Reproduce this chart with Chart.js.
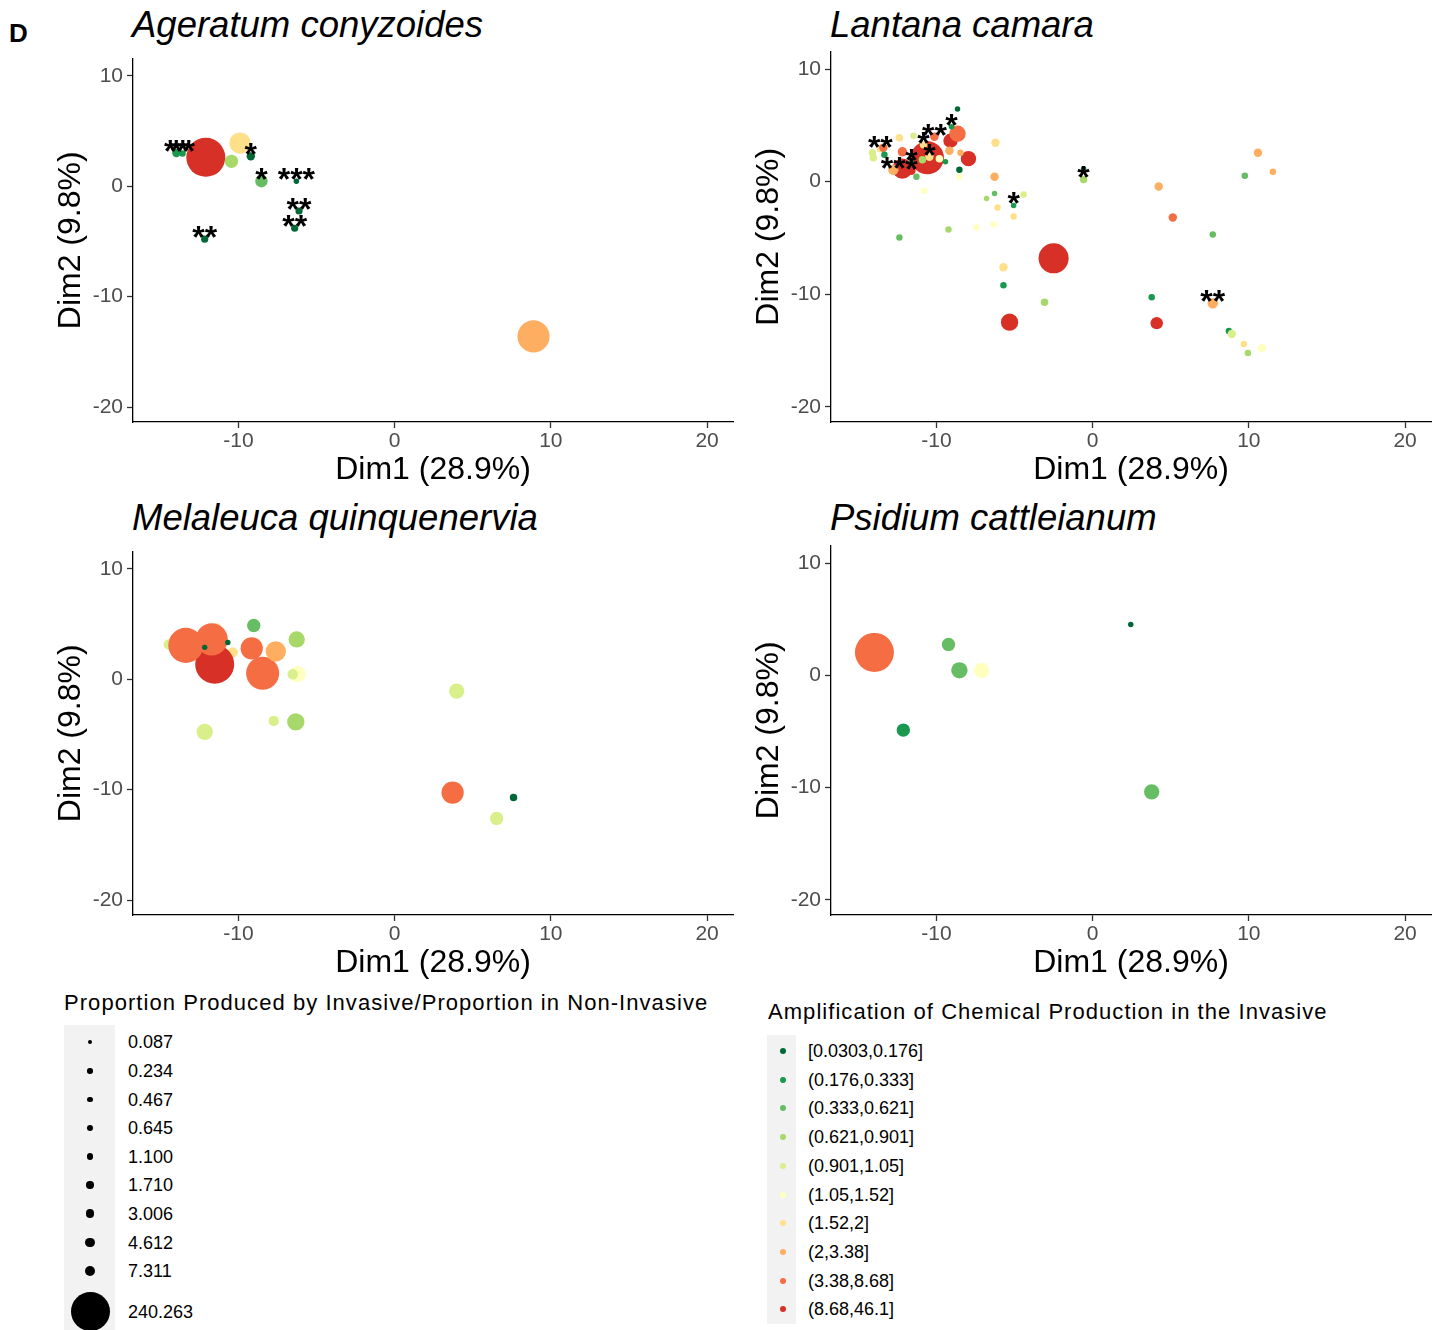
<!DOCTYPE html>
<html>
<head>
<meta charset="utf-8">
<script src="https://cdn.jsdelivr.net/npm/chart.js@4.4.0/dist/chart.umd.min.js"></script>
<style>
body { margin:0; background:#fff; font-family:"Liberation Sans", Arial, sans-serif; }
#page { position:relative; width:1441px; height:1330px; overflow:hidden; background:#fff; }
canvas { position:absolute; }
.ttl { position:absolute; font-style:italic; font-size:36.5px; line-height:36px; color:#000; white-space:nowrap; }
.tag { position:absolute; left:9px; top:20px; font-weight:bold; font-size:26px; line-height:26px; }
.lgtitle { position:absolute; font-size:22px; line-height:22px; letter-spacing:1.05px; color:#000; white-space:nowrap; }
.keys { position:absolute; background:#f2f2f2; }
.dot { position:absolute; border-radius:50%; }
.lab { position:absolute; font-size:18px; line-height:18px; color:#000; white-space:nowrap; }
</style>
</head>
<body>
<div id="page">
  <div class="tag">D</div>
  <div class="ttl" style="left:132px; top:7px;">Ageratum conyzoides</div>
  <div class="ttl" style="left:830px; top:7px;">Lantana camara</div>
  <div class="ttl" style="left:132px; top:500px;">Melaleuca quinquenervia</div>
  <div class="ttl" style="left:830px; top:500px;">Psidium cattleianum</div>
  <canvas id="c1" width="700" height="448" style="left:40px; top:42px;"></canvas>
  <canvas id="c2" width="700" height="455" style="left:738px; top:35px;"></canvas>
  <canvas id="c3" width="700" height="448" style="left:40px; top:535px;"></canvas>
  <canvas id="c4" width="700" height="454" style="left:738px; top:529px;"></canvas>
  <div id="legends"></div>
</div>
<script>
// axis ticks
var xTicks = [-10, 0, 10, 20];
var yTicks = [-20, -10, 0, 10];
var xLabel = 'Dim1 (28.9%)';
var yLabel = 'Dim2 (9.8%)';

// colour classes (amplification in the invasive)
var ampClasses = ['[0.0303,0.176]', '(0.176,0.333]', '(0.333,0.621]', '(0.621,0.901]', '(0.901,1.05]',
                  '(1.05,1.52]', '(1.52,2]', '(2,3.38]', '(3.38,8.68]', '(8.68,46.1]'];
// size legend (proportion invasive / proportion non-invasive)
var sizeBreaks = [0.087, 0.234, 0.467, 0.645, 1.100, 1.710, 3.006, 4.612, 7.311, 240.263];
var sizeLabels = ['0.087', '0.234', '0.467', '0.645', '1.100', '1.710', '3.006', '4.612', '7.311', '240.263'];

// Ageratum conyzoides
var agX = [-12.09, -9.90, -10.45, -9.21, -13.97, -13.58, -8.53, -6.29, -6.12, -6.40, -12.16, 8.89];
var agY = [2.61, 3.90, 2.25, 2.70, 3.00, 2.95, 0.45, 0.45, -2.25, -3.81, -4.80, -13.60];
var agRatio = [240.263, 56.8, 16.0, 3.22, 3.22, 0.87, 12.6, 0.28, 1.5, 1.5, 1.5, 153.8];
var agClass = [9, 6, 3, 0, 1, 1, 2, 0, 0, 0, 0, 7];
var agStars = ['', '', '', '*', '**', '**', '*', '***', '**', '**', '**', ''];

// Lantana camara
var lcX = [-10.58, -12.18, -9.10, -8.65, -7.95, -2.50, -5.32, 4.10, -12.18,
           -13.59, -13.40, -14.10, -14.04, -13.33, -12.76, -11.60, -11.60, -10.83, -10.45,
           -10.13, -9.04, -8.65, -12.37, -11.47, -8.53, -8.53, -9.17, -8.46, -9.81,
           -9.42, -10.90, -11.28, -10.77, -6.22, -6.28, -12.37, -9.23, -7.44, -6.35,
           -6.79, -6.28, -4.42, -5.06, -6.09, -5.06, -0.58, -0.58, 4.23, 9.74,
           10.58, 11.54, 5.13, 7.69, -5.71, -5.71, -3.08, 3.78, 7.69, 8.72,
           8.91, 9.68, 10.83, 9.94];
var lcY = [2.12, 1.15, 3.63, 4.25, 2.04, -6.81, -12.48, -12.57, 2.65,
           2.92, 3.01, 2.57, 2.12, 2.39, 1.06, 1.77, 0.97, 3.27, 2.21,
           3.98, 4.87, 6.46, 3.89, 4.07, 1.06, 0.44, 2.74, 2.57, 2.04,
           1.77, 1.95, 0.44, -0.80, 3.45, 0.44, -4.96, -4.25, -4.07, -3.81,
           -1.50, -1.06, -1.15, -2.12, -2.30, -3.10, 1.15, 0.18, -0.44, 0.53,
           2.57, 0.88, -3.19, -4.69, -7.61, -9.20, -10.71, -10.27, -10.80, -13.27,
           -13.54, -14.42, -14.78, -15.22];
var lcRatio = [165, 50.3, 19.7, 28.3, 23.8, 132.6, 33.2, 12.6, 5.0,
               1.85, 3.22, 1.85, 1.85, 0.87, 7.14, 0.28, 3.22, 1.85, 3.22,
               3.22, 0.28, 0.28, 1.85, 0.87, 0.87, 0.87, 3.22, 0.87, 1.85,
               0.28, 1.85, 0.87, 0.87, 3.22, 3.22, 0.87, 0.87, 0.87, 0.87,
               0.28, 0.28, 0.87, 0.28, 0.87, 0.87, 0.28, 1.85, 3.22, 0.87,
               3.22, 0.87, 3.22, 0.87, 3.22, 0.87, 1.85, 0.87, 7.14, 0.87,
               3.22, 0.87, 3.22, 0.87];
var lcClass = [9, 9, 9, 8, 9, 9, 9, 9, 8,
               6, 8, 4, 4, 1, 7, 1, 9, 6, 6,
               8, 1, 0, 6, 4, 0, 5, 7, 7, 5,
               1, 3, 2, 5, 6, 7, 2, 3, 5, 5,
               3, 2, 4, 1, 6, 6, 0, 3, 7, 2,
               7, 7, 8, 2, 6, 1, 3, 1, 7, 1,
               4, 6, 5, 3];
var lcStars = ['', '', '', '', '', '', '', '', '',
               '**', '', '', '', '', '**', '*', '*', '*', '*',
               '**', '*', '', '', '', '', '', '', '', '',
               '', '', '', '', '', '', '', '', '', '',
               '', '', '', '*', '', '', '', '*', '', '',
               '', '', '', '', '', '', '', '', '**', '',
               '', '', '', ''];

// Melaleuca quinquenervia
var mqX = [-14.46, -11.39, -10.36, -11.52, -13.37, -11.71, -9.15, -8.45, -7.61, -9.02, -10.68, -12.16,
           -6.27, -6.21, -6.53, -7.74, -6.33, -12.16, 3.97, 3.71, 7.61, 6.53];
var mqY = [3.15, 4.68, 2.43, 1.35, 3.06, 3.60, 2.79, 0.54, 2.52, 4.86, 3.33, 2.88,
           3.60, 0.45, 0.45, -3.78, -3.87, -4.77, -1.08, -10.27, -10.72, -12.61];
var mqRatio = [7.14, 3.22, 7.14, 240.263, 188.5, 153.8, 63.6, 165, 50.3, 16.0, 0.28, 0.28,
               28.3, 28.3, 7.14, 7.14, 33.2, 28.3, 23.8, 63.6, 1.85, 16.0];
var mqClass = [4, 6, 6, 9, 8, 8, 8, 8, 7, 2, 0, 0,
               3, 5, 4, 4, 3, 4, 4, 8, 0, 4];

// Psidium cattleianum
var pcX = [-13.97, -9.23, -8.53, -7.12, -12.12, 2.44, 3.78];
var pcY = [2.04, 2.75, 0.44, 0.44, -4.88, 4.53, -10.38];
var pcRatio = [240.263, 16.0, 28.3, 23.8, 16.0, 0.28, 23.8];
var pcClass = [8, 2, 2, 5, 1, 0, 2];

var palette = ['#006837', '#1a9850', '#66bd63', '#a6d96a', '#d9ef8b',
               '#ffffbf', '#fee08b', '#fdae61', '#f46d43', '#d73027'];

// ggplot style area scale: smallest break ~4.5px across, largest 39px
function diam(v) {
  var t = (v - 0.087) / (240.263 - 0.087);
  if (t < 0) t = 0;
  if (t > 1) t = 1;
  return 4.5 + 34.5 * Math.sqrt(t);
}

function makePanel(id, padTop, xs, ys, ratio, cls, stars) {
  var pts = xs.map(function(x, i) { return {x: x, y: ys[i]}; });
  var starPlugin = {
    id: 'stars' + id,
    afterDatasetsDraw: function(chart) {
      if (!stars) return;
      var ctx = chart.ctx;
      ctx.save();
      ctx.fillStyle = '#000';
      ctx.font = 'bold 32px "Liberation Sans", Arial, sans-serif';
      ctx.textAlign = 'center';
      ctx.textBaseline = 'middle';
      stars.forEach(function(s, i) {
        if (!s) return;
        var px = chart.scales.x.getPixelForValue(xs[i]);
        var py = chart.scales.y.getPixelForValue(ys[i]);
        ctx.fillText(s, px, py);
      });
      ctx.restore();
    }
  };
  return new Chart(document.getElementById(id), {
    type: 'scatter',
    data: {
      datasets: [{
        data: pts,
        pointRadius: function(c) { return diam(ratio[c.dataIndex]) / 2; },
        pointHoverRadius: function(c) { return diam(ratio[c.dataIndex]) / 2; },
        pointBackgroundColor: function(c) { return palette[cls[c.dataIndex]]; },
        pointBorderWidth: 0,
        pointBorderColor: 'rgba(0,0,0,0)'
      }]
    },
    options: {
      responsive: false,
      animation: false,
      events: [],
      devicePixelRatio: 1,
      layout: {autoPadding: false, padding: {top: padTop, right: 7, left: 0, bottom: 0}},
      plugins: {legend: {display: false}, tooltip: {enabled: false}},
      scales: {
        x: {
          type: 'linear', min: -16.75, max: 21.66,
          afterFit: function(s) { s.height = 68; },
          afterBuildTicks: function(s) { s.ticks = xTicks.map(function(v) { return {value: v}; }); },
          ticks: {font: {size: 21, family: '"Liberation Sans", Arial'}, color: '#4d4d4d', padding: 1, autoSkip: false, maxRotation: 0},
          grid: {drawOnChartArea: false, drawTicks: true, tickLength: 6, tickColor: '#333', tickWidth: 1.3},
          border: {display: true, color: '#000', width: 1.3},
          title: {display: true, text: xLabel, color: '#000', font: {size: 32, lineHeight: 1, family: '"Liberation Sans", Arial'}, padding: {top: 0, bottom: 4}}
        },
        y: {
          type: 'linear', min: -21.35, max: 11.55,
          afterFit: function(s) { s.width = 93; },
          afterBuildTicks: function(s) { s.ticks = yTicks.map(function(v) { return {value: v}; }); },
          ticks: {font: {size: 21, family: '"Liberation Sans", Arial'}, color: '#4d4d4d', padding: 4, autoSkip: false},
          grid: {drawOnChartArea: false, drawTicks: true, tickLength: 6, tickColor: '#333', tickWidth: 1.3},
          border: {display: true, color: '#000', width: 1.3},
          title: {display: true, text: yLabel, color: '#000', font: {size: 32, lineHeight: 1, family: '"Liberation Sans", Arial'}, padding: {top: 15, bottom: 0}}
        }
      }
    },
    plugins: [starPlugin]
  });
}

makePanel('c1', 7, agX, agY, agRatio, agClass, agStars);
makePanel('c2', 7, lcX, lcY, lcRatio, lcClass, lcStars);
makePanel('c3', 7, mqX, mqY, mqRatio, mqClass, null);
makePanel('c4', 7, pcX, pcY, pcRatio, pcClass, null);

// legends (html)
var lg = document.getElementById('legends');
function add(html) { lg.insertAdjacentHTML('beforeend', html); }

add('<div class="lgtitle" style="left:64px; top:992px;">Proportion Produced by Invasive/Proportion in Non-Invasive</div>');
add('<div class="keys" style="left:64px; top:1025px; width:51px; height:305px;"></div>');
var sizeRows = [1042, 1071, 1099.5, 1128, 1156.5, 1185, 1213.5, 1242.5, 1271, 1311.5];
sizeBreaks.forEach(function(v, i) {
  var d = diam(v);
  add('<div class="dot" style="background:#000; width:' + d + 'px; height:' + d + 'px; left:' + (90 - d / 2) + 'px; top:' + (sizeRows[i] - d / 2) + 'px;"></div>');
  add('<div class="lab" style="left:128px; top:' + (sizeRows[i] - 9) + 'px;">' + sizeLabels[i] + '</div>');
});

add('<div class="lgtitle" style="left:768px; top:1001px;">Amplification of Chemical Production in the Invasive</div>');
add('<div class="keys" style="left:767px; top:1035px; width:29px; height:289px;"></div>');
ampClasses.forEach(function(lab, i) {
  var cy = 1051 + i * 28.7;
  add('<div class="dot" style="background:' + palette[i] + '; width:6px; height:6px; left:780px; top:' + (cy - 3) + 'px;"></div>');
  add('<div class="lab" style="left:808px; top:' + (cy - 9) + 'px;">' + lab + '</div>');
});
</script>
</body>
</html>
